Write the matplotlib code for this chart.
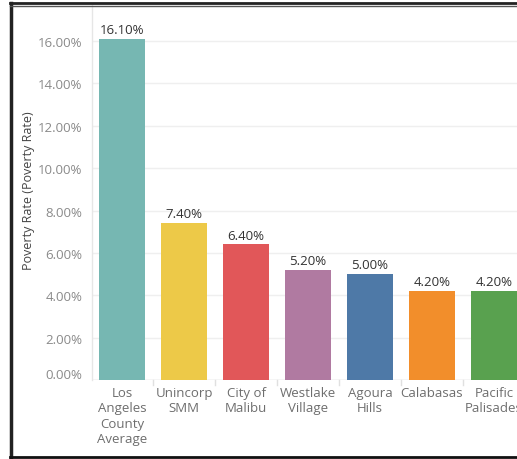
import matplotlib
matplotlib.use("Agg")
import matplotlib.pyplot as plt
from matplotlib.lines import Line2D
import matplotlib.transforms as mtransforms

categories = ["Los\nAngeles\nCounty\nAverage", "Unincorp\nSMM", "City of\nMalibu",
              "Westlake\nVillage", "Agoura\nHills", "Calabasas", "Pacific\nPalisades"]
poverty_rate = [16.10, 7.40, 6.40, 5.20, 5.00, 4.20, 4.20]
colors = ["#76B7B2", "#EDC948", "#E15759", "#B07AA1", "#4E79A7", "#F28E2B", "#59A14F"]
y_ticks = [0, 2, 4, 6, 8, 10, 12, 14, 16]

plt.rcParams["font.family"] = ["Open Sans", "DejaVu Sans"]

W, H = 517, 460
fig = plt.figure(figsize=(W / 100, H / 100), dpi=100)
ax = fig.add_axes([92 / W, 79 / H, (W - 92) / W, (454 - 79) / H])

x = list(range(len(categories)))
bars = ax.bar(x, poverty_rate, width=46 / 62, color=colors, zorder=3)

ax.set_xlim(-0.484, 6.371)
ax.set_ylim(0, 17.7)

ax.set_yticks(y_ticks)
ax.set_yticklabels([f"{v:.2f}%" for v in y_ticks], color="#8a8a8a", fontsize=9.5)
ax.tick_params(axis="y", length=0, pad=7)
# lift the bottom tick label slightly off the baseline
lab0 = ax.get_yticklabels()[0]
lab0.set_transform(lab0.get_transform() + mtransforms.ScaledTranslation(0, 7 / 100, fig.dpi_scale_trans))
ax.grid(axis="y", color="#efefef", linewidth=1, zorder=0)
ax.set_xticks([])

for s in ["top", "right", "bottom"]:
    ax.spines[s].set_visible(False)
ax.spines["left"].set_color("#e6e6e6")
ax.spines["left"].set_linewidth(1)
ax.axhline(0, color="#e0e0e0", linewidth=1, zorder=2)

for xi, v in zip(x, poverty_rate):
    ax.annotate(f"{v:.2f}%", (xi, v), xytext=(0, 2), textcoords="offset points",
                ha="center", va="bottom", fontsize=9.5, color="#333333")

# category header labels below the axis
for xi, lab in zip(x, categories):
    ax.annotate(lab, (xi, 0), xytext=(0, -4), textcoords="offset points",
                ha="center", va="top", fontsize=9.5, color="#6e6e6e",
                linespacing=1.25, annotation_clip=False)

# short dividers between category headers
for xi in x[:-1]:
    ax.plot([xi + 0.5, xi + 0.5], [0, -0.25], color="#e0e0e0", linewidth=1,
            clip_on=False, zorder=2)

ax.set_ylabel("Poverty Rate (Poverty Rate)", fontsize=9, color="#444444")
ax.yaxis.set_label_coords(-57 / (W - 92), (380 - 190) / (380 - 6))

# dashboard frame
fig.add_artist(Line2D([11 / W, 11 / W], [2 / H, 456 / H], color="#222222", linewidth=2.5))
fig.add_artist(Line2D([10 / W, 1], [456 / H, 456 / H], color="#222222", linewidth=2))
fig.add_artist(Line2D([10 / W, 1], [453 / H, 453 / H], color="#555555", linewidth=1))
fig.add_artist(Line2D([10 / W, 1], [2.5 / H, 2.5 / H], color="#111111", linewidth=2))

fig.savefig("out.png", dpi=100)
